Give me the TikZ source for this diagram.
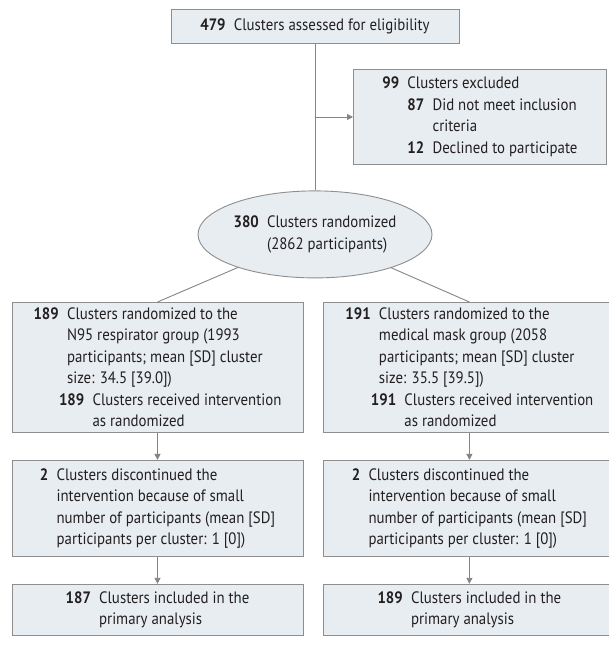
\documentclass[tikz,border=0pt]{standalone}
\usepackage{fontspec}
\setmainfont{PT Sans}[FakeStretch=0.9]
\usepackage{xcolor}
\usetikzlibrary{arrows.meta, positioning, shapes.geometric, calc}

\definecolor{boxfill}{HTML}{E7EDF1}
\definecolor{boxline}{HTML}{8E8E8E}
\definecolor{linkgray}{HTML}{858585}
\definecolor{inkdark}{HTML}{231F20}

% bold count with gap, and an empty slot of the same width
\newcommand{\cn}[1]{\textbf{#1}\enspace}
\newcommand{\ci}[1]{\hphantom{\textbf{#1}\enspace}}

\begin{document}
\begin{tikzpicture}[
    x=1pt, y=-1pt,
    node distance=27pt,
    font=\fontsize{16.5}{21.5}\selectfont,
    text=inkdark,
    block/.style={
        rectangle,
        draw=boxline,
        fill=boxfill,
        line width=0.9pt,
        align=left,
        inner sep=0pt,
        minimum width=291pt
    },
    oval/.style={
        ellipse,
        draw=boxline,
        fill=boxfill,
        line width=0.9pt,
        align=left,
        inner xsep=-6pt,
        inner ysep=0pt,
        minimum width=234pt,
        minimum height=87pt
    },
    link/.style={
        line width=0.9pt,
        color=linkgray,
        >={Triangle[length=6pt,width=6pt]}
    }
]
\useasboundingbox[fill=white] (0,0) rectangle (609,652);

% Eligibility and exclusion
\node[block, minimum width=288pt, minimum height=34pt] (assess) at (315,26) {\cn{479}Clusters assessed for eligibility};
\node[oval, below=147pt of assess] (rand) {\cn{380}Clusters randomized\\ \ci{380}(2862 participants)};
\coordinate (split) at (assess.south |- 0,117);
\node[block, minimum width=253pt, minimum height=95pt, right=38pt of split] (excl) {
    \cn{99}Clusters excluded\\
    \ci{99}\cn{87}Did not meet inclusion\\
    \ci{99}\ci{87}criteria\\
    \ci{99}\cn{12}Declined to participate
};

% N95 respirator arm
\node[block, minimum height=130pt, anchor=north] (n95) at (157.5,302) {
    \cn{189}Clusters randomized to the\\
    \ci{189}N95 respirator group (1993\\
    \ci{189}participants; mean [SD] cluster\\
    \ci{189}size: 34.5 [39.0])\\
    \ci{189}\hspace*{-8pt}\cn{189}Clusters received intervention\\
    \ci{189}\hspace*{-8pt}\ci{189}as randomized
};
\node[block, minimum height=96pt, below=27pt of n95] (n95stop) {
    \cn{2}Clusters discontinued the\\
    \ci{2}intervention because of small\\
    \ci{2}number of participants (mean [SD]\\
    \ci{2}participants per cluster: 1 [0])
};
\node[block, minimum height=51pt, below=27pt of n95stop] (n95fin) {
    \cn{187}Clusters included in the\\
    \ci{187}primary analysis
};

% Medical mask arm
\node[block, minimum height=130pt, right=20pt of n95] (mask) {
    \cn{191}Clusters randomized to the\\
    \ci{191}medical mask group (2058\\
    \ci{191}participants; mean [SD] cluster\\
    \ci{191}size: 35.5 [39.5])\\
    \ci{191}\hspace*{-8pt}\cn{191}Clusters received intervention\\
    \ci{191}\hspace*{-8pt}\ci{191}as randomized
};
\node[block, minimum height=96pt, below=27pt of mask] (maskstop) {
    \cn{2}Clusters discontinued the\\
    \ci{2}intervention because of small\\
    \ci{2}number of participants (mean [SD]\\
    \ci{2}participants per cluster: 1 [0])
};
\node[block, minimum height=51pt, below=27pt of maskstop] (maskfin) {
    \cn{189}Clusters included in the\\
    \ci{189}primary analysis
};

% Connectors
\draw[link] (assess) -- (rand);
\draw[link, ->] (split) -- (excl);
\draw[link] (rand) -- (n95.north);
\draw[link] (rand) -- (mask.north);
\draw[link, ->] (n95) -- (n95stop);
\draw[link, ->] (n95stop) -- (n95fin);
\draw[link, ->] (mask) -- (maskstop);
\draw[link, ->] (maskstop) -- (maskfin);

\end{tikzpicture}
\end{document}
